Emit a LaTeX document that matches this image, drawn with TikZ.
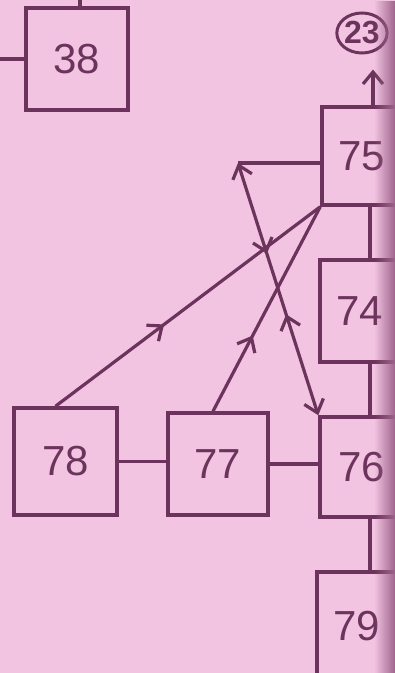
\documentclass[tikz,border=0pt]{standalone}
\usepackage{fontspec}
\setmainfont{Liberation Sans}
\usetikzlibrary{arrows.meta,decorations.markings,shapes.geometric,fadings}
\definecolor{bgpink}{RGB}{242,196,226}
\definecolor{ink}{RGB}{108,52,92}
\definecolor{edgeshade}{RGB}{160,100,140}
\tikzfading[name=fadeR, left color=transparent!100, right color=transparent!0]
\tikzset{
  box/.style={draw=ink, line width=3.5pt, text=ink, inner sep=0pt,
    font=\fontsize{42}{42}\selectfont},
  conn/.style={draw=ink, line width=3.2pt},
  barb/.style={-{Straight Barb[length=12pt,width=20pt]}},
  midfwd/.style={postaction={decorate, decoration={markings,
    mark=at position #1 with {\arrow{Straight Barb[length=12pt,width=20pt]}}}}},
  midback/.style={postaction={decorate, decoration={markings,
    mark=at position #1 with {\arrowreversed{Straight Barb[length=12pt,width=20pt]}}}}}
}
\begin{document}
\begin{tikzpicture}[x=1pt,y=-1pt]
\fill[bgpink] (0,0) rectangle (395,673);
\useasboundingbox (0,0) rectangle (395,673);
\begin{scope}
\clip (0,0) rectangle (395,673);
% boxes
\node[box, minimum width=102pt, minimum height=102pt] (b38) at (77,59) {38};
\node[box, minimum width=80pt, minimum height=98pt] (b75) at (362,156) {75};
\node[box, minimum width=80pt, minimum height=102pt] (b74) at (360,311) {74};
\node[box, minimum width=84pt, minimum height=100pt] (b76) at (362,467) {76};
\node[box, minimum width=80pt, minimum height=108pt] (b79) at (357,626) {79};
\node[box, minimum width=103pt, minimum height=107pt] (b78) at (65.5,461.5) {78};
\node[box, minimum width=100pt, minimum height=102pt] (b77) at (218,464) {77};
\node[draw=ink, line width=3pt, text=ink, ellipse, inner sep=0pt,
  minimum width=48pt, minimum height=40pt,
  font=\fontsize{32}{32}\selectfont\bfseries] (c23) at (362,33) {23};
% coordinates
\coordinate (t38) at (80,0);
\coordinate (l38) at (0,59);
\coordinate (vx) at (370,0);
\coordinate (ax) at (373,0);
\coordinate (corner) at (238,163);
% connectors
\draw[conn] (b38.north -| t38) -- (t38);
\draw[conn] (b38.west) -- (l38);
\draw[conn, barb] (b75.north -| ax) -- ([yshift=-15pt]c23.south -| ax);
\draw[conn] (b75.south -| vx) -- (b74.north -| vx);
\draw[conn] (b74.south -| vx) -- (b76.north -| vx);
\draw[conn] (b76.south -| vx) -- (b79.north -| vx);
\draw[conn] (b75.west |- corner) -- (corner);
\draw[conn] (b78.east) -- (b77.west |- b78.east);
\draw[conn] (b77.east) -- (b76.west |- b77.east);
\draw[conn, midfwd=0.41] ([xshift=-10pt]b78.north) -- (b75.south west);
\draw[conn, midfwd=0.37] ([xshift=-5pt]b77.north) -- (b75.south west);
\draw[conn, {Straight Barb[length=12pt,width=20pt]}-{Straight Barb[length=12pt,width=20pt]},
  midfwd=0.36, midback=0.6] (corner) -- (b76.north west);
% page edge shadow
\fill[edgeshade, path fading=fadeR, fit fading=true] (374,0) rectangle (395,673);
\end{scope}
\end{tikzpicture}
\end{document}
